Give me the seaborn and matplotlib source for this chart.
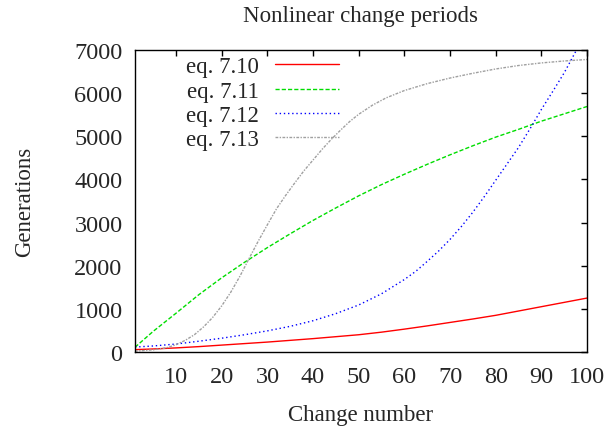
import numpy as np
import pandas as pd
import seaborn as sns
import matplotlib
matplotlib.use("Agg")
import matplotlib.pyplot as plt

# Nonlinear change periods
change_number = [1, 5, 10, 15, 20, 25, 30, 35, 40, 45, 50,
                 55, 60, 65, 70, 75, 80, 85, 90, 95, 100]
eq_7_10 = [55, 70, 95, 125, 160, 195, 230, 270, 310, 355, 400,
           460, 530, 605, 685, 765, 850, 950, 1050, 1150, 1250]
eq_7_11 = [110, 480, 900, 1330, 1720, 2080, 2420, 2740, 3050, 3340, 3620,
           3880, 4120, 4350, 4570, 4780, 4980, 5160, 5350, 5520, 5690]

change_number_12 = [1, 5, 10, 15, 20, 25, 30, 35, 40, 45, 50, 55, 60,
                    62.5, 65, 67.5, 70, 72.5, 75, 77.5, 80, 82.5, 85,
                    87.5, 90, 92.5, 95, 97.5, 100]
eq_7_12 = [115, 140, 185, 250, 320, 400, 490, 595, 725, 890, 1090, 1350, 1680,
           1870, 2100, 2340, 2610, 2910, 3240, 3600, 3980, 4360, 4740,
           5170, 5620, 6040, 6470, 6960, 7450]

change_number_13 = [1, 5, 8, 10, 12, 14, 16, 18, 20, 22, 24, 26, 28, 30,
                    32, 34, 36, 38, 40, 42, 44, 46, 48, 50, 53, 56, 60,
                    65, 70, 75, 80, 85, 90, 95, 100]
eq_7_13 = [20, 50, 100, 170, 270, 400, 580, 800, 1070, 1390, 1760, 2170, 2570, 2950,
           3320, 3630, 3920, 4200, 4450, 4700, 4930, 5140, 5340, 5510, 5720, 5890, 6060,
           6220, 6350, 6460, 6560, 6640, 6700, 6745, 6780]

labels = ["eq. 7.10", "eq. 7.11", "eq. 7.12", "eq. 7.13"]
xs = [change_number, change_number, change_number_12, change_number_13]
series = [eq_7_10, eq_7_11, eq_7_12, eq_7_13]
colors = ["#ff0000", "#00dd00", "#0000ff", "#a0a0a0"]
styles = ["-", (0, (3, 1.5)), (0, (1, 2)), (0, (2, 1, 1, 1))]

sns.set_style("white")
plt.rcParams["font.family"] = ["Liberation Serif", "DejaVu Serif"]
plt.rcParams["font.size"] = 16

fig = plt.figure(figsize=(6.1, 4.27), dpi=100)
ax = fig.add_axes([0.2213, 0.1733, 0.741, 0.7073])

for lab, xv, vals, col, ls in zip(labels, xs, series, colors, styles):
    df = pd.DataFrame({"change": xv, "gen": vals})
    sns.lineplot(data=df, x="change", y="gen", ax=ax, color=col,
                 linestyle=ls, linewidth=1.0, label=lab)

ax.set_xlim(1, 100)
ax.set_ylim(0, 7000)
ax.set_xticks(np.arange(10, 101, 10))
ax.set_yticks(np.arange(0, 7001, 1000))
ax.tick_params(direction="in", length=4, width=1, top=True, right=True,
               labelsize=17.5, color="black")
ax.tick_params(axis="y", pad=9)
ax.tick_params(axis="x", pad=10)
for sp in ax.spines.values():
    sp.set_color("black")
    sp.set_linewidth(1.0)

ax.set_title("Nonlinear change periods", fontsize=16.5, pad=21)
ax.set_xlabel("Change number", fontsize=16.5, labelpad=12)
ax.set_ylabel("Generations", fontsize=16.5, labelpad=28)

ax.legend(loc="upper right", bbox_to_anchor=(339 / 610, 1 - 57 / 427),
          bbox_transform=fig.transFigure, frameon=False, markerfirst=False,
          handlelength=2.8, handletextpad=0.7, labelspacing=0.15,
          borderpad=0, borderaxespad=0, fontsize=16.5)

fig.savefig("out.png", dpi=100)
